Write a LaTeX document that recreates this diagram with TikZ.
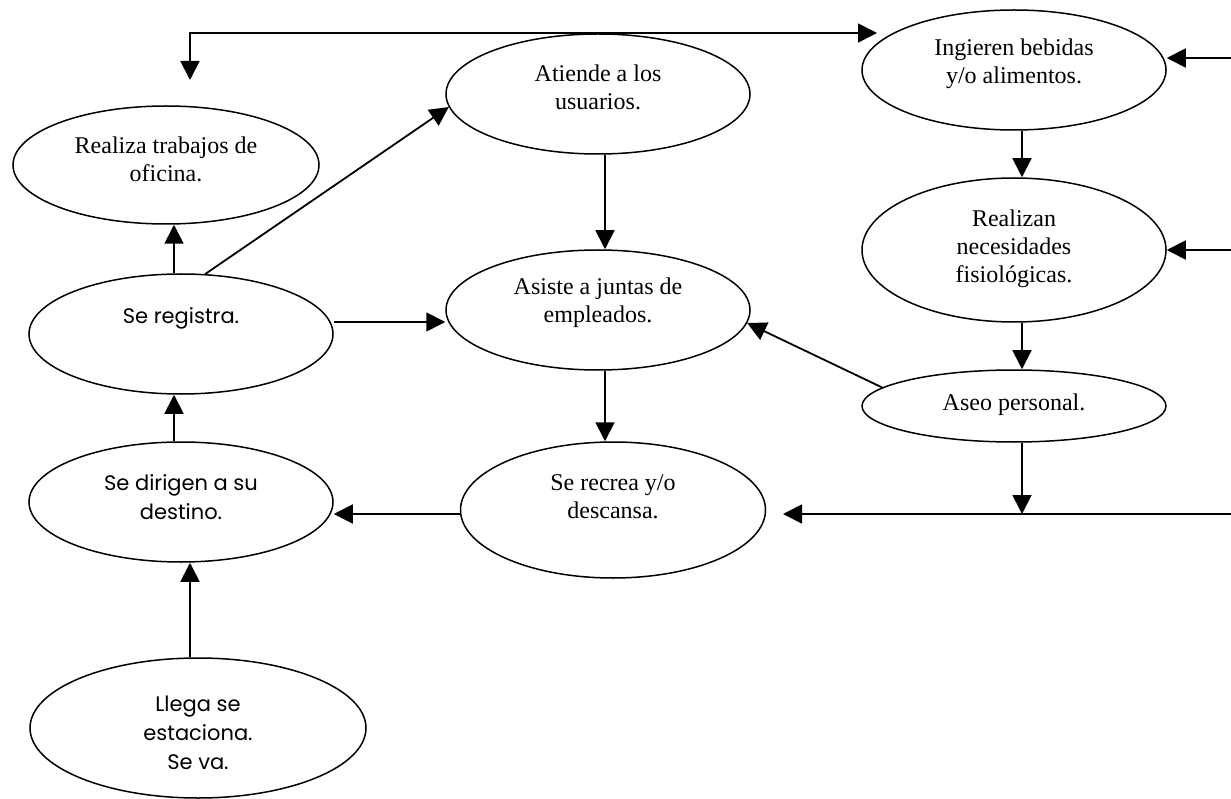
\documentclass[tikz,border=0pt]{standalone}
\usepackage{fontspec}
\setmainfont{Liberation Serif}
\newfontfamily\gothic{Poppins}
\usetikzlibrary{arrows.meta,shapes.geometric}
\begin{document}
\begin{tikzpicture}[x=1pt,y=-1pt,
  el/.style 2 args={ellipse,draw,line width=1.5pt,inner sep=0pt,
    minimum width=#1pt,minimum height=#2pt},
  st/.style={inner sep=0pt,align=center,font=\fontsize{24}{28}\selectfont},
  ss/.style={inner sep=0pt,align=center,font=\gothic\fontsize{21}{29}\selectfont},
  tip/.style={Triangle[length=19pt,width=19pt]},
  arr/.style={line width=1.8pt,-{Triangle[length=19pt,width=19pt]}}]
\useasboundingbox (0,0) rectangle (1231,799);
% ellipses
\node[el={306}{118}] (oficina) at (166,165) {};
\node[el={304}{120}] (usuarios) at (598,94) {};
\node[el={304}{120}] (juntas) at (598,310) {};
\node[el={304}{120}] (ingieren) at (1014,70) {};
\node[el={304}{144}] (fisio) at (1014,250) {};
\node[el={304}{72}] (aseo) at (1014,406) {};
\node[el={305}{136}] (recrea) at (613,510) {};
\node[el={304}{120}] (registra) at (181,334) {};
\node[el={304}{120}] (dirigen) at (181,502) {};
\node[el={336}{140}] (llega) at (198,728) {};
% texts
\node[st] (oficina-t) at (166,159) {Realiza trabajos de\\oficina.};
\node[st] (usuarios-t) at (598,87) {Atiende a los\\usuarios.};
\node[st] (juntas-t) at (598,303) {Asiste a juntas de\\empleados.};
\node[st] (ingieren-t) at (1014,64) {Ingieren bebidas\\y/o alimentos.};
\node[st] (fisio-t) at (1014,249) {Realizan\\necesidades\\fisiológicas.};
\node[st] (aseo-t) at (1014,405) {Aseo personal.};
\node[st] (recrea-t) at (613,497) {Se recrea y/o\\descansa.};
\node[ss] (registra-t) at (181,318) {Se registra.};
\node[ss] (dirigen-t) at (181,497) {Se dirigen a su\\destino.};
\node[ss] (llega-t) at (198,733) {Llega se\\estaciona.\\Se va.};
% free ends
\coordinate (t0) at (190,80);
\coordinate (t1) at (877,33);
\coordinate (r1) at (1231,58);
\coordinate (r2) at (1231,250);
\coordinate (r3) at (1231,514);
\coordinate (b1) at (783,514);
\coordinate (j1) at (1022,514);
% connectors
\draw[line width=1.8pt,{Triangle[length=19pt,width=19pt]}-{Triangle[length=19pt,width=19pt]}] (t0) |- (t1);
\draw[arr] ([xshift=-7pt]registra.north) -- ([xshift=-7pt]registra.north |- oficina.south);
\draw[arr] (registra.68) -- (usuarios.185);
\draw[arr] ([yshift=12pt]registra.east) -- ([yshift=12pt]registra.east -| juntas.west);
\draw[arr] ([xshift=7pt]usuarios.south) -- ([xshift=7pt]juntas.north);
\draw[arr] ([xshift=7pt]juntas.south) -- ([xshift=7pt]juntas.south |- recrea.north);
\draw[arr] ([yshift=-4pt]recrea.west) -- ([yshift=-4pt]recrea.west -| dirigen.east);
\draw[arr] ([xshift=-7pt]dirigen.north) -- ([xshift=-7pt]registra.south);
\draw[arr] ([xshift=-8pt]llega.north) -- ([xshift=-8pt]llega.north |- dirigen.south);
\draw[arr] ([xshift=8pt]ingieren.south) -- ([xshift=8pt]fisio.north);
\draw[arr] ([xshift=8pt]fisio.south) -- ([xshift=8pt]aseo.north);
\draw[arr] ([xshift=8pt]aseo.south) -- (j1);
\draw[arr] (r3) -- (b1);
\draw[arr] (r1) -- (r1 -| ingieren.east);
\draw[arr] (r2) -- (r2 -| fisio.east);
\draw[arr] (aseo.172) -- (juntas.355);
\end{tikzpicture}
\end{document}
